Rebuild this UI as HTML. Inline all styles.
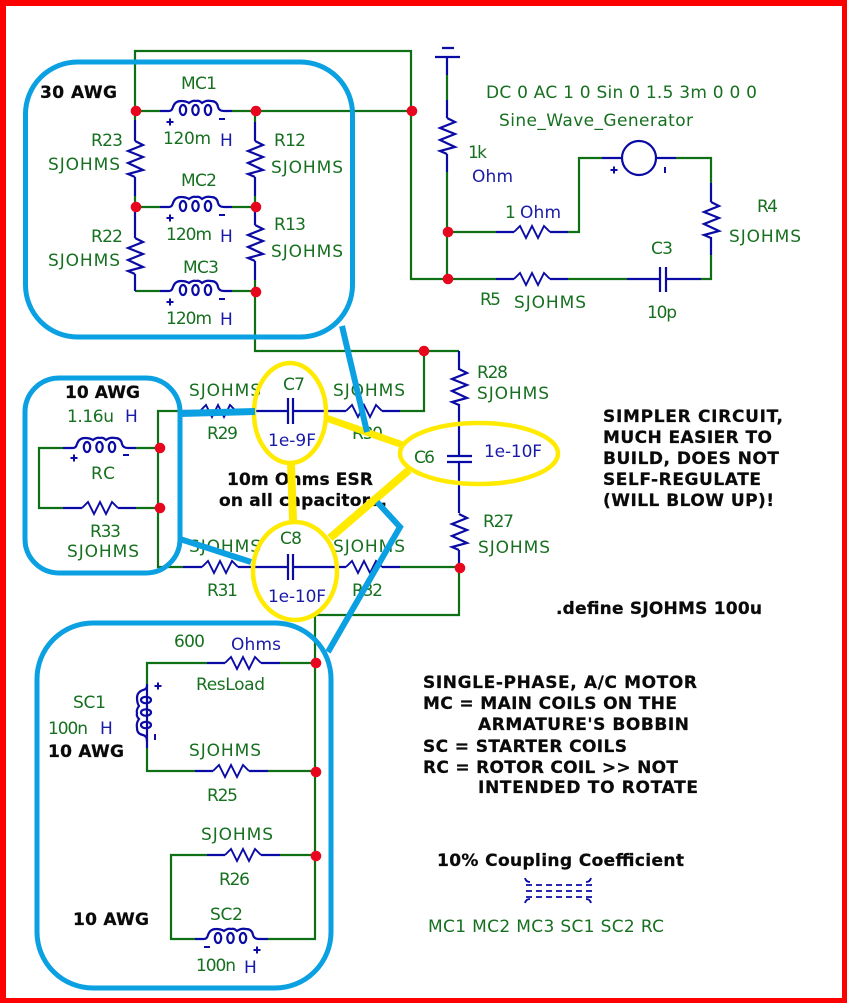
<!DOCTYPE html>
<html><head><meta charset="utf-8"><style>
html,body{margin:0;padding:0;background:#fff}
svg{display:block}
text{font-family:"DejaVu Sans","Liberation Sans",sans-serif;font-size:17px;fill:#16701f}
.b{fill:#1a1aa8}
.k{fill:#0a0a0a;font-weight:bold;font-size:17px;stroke:#0a0a0a;stroke-width:.25}
.gw{fill:none;stroke:#0f6f14;stroke-width:2.2}
.bw{fill:none;stroke:#0a0aa5;stroke-width:2.2}
.th{fill:none;stroke:#0aa0e2}
.ye{fill:none;stroke:#ffea00}
</style></head><body>
<svg width="847" height="1003" viewBox="0 0 847 1003" xmlns="http://www.w3.org/2000/svg">
<defs>
<path id="r" d="M0,0L6,-6L12,6L18,-6L24,6L30,-6L36,0" fill="none" stroke="#0a0aa5" stroke-width="1.9"/>
<path id="v" d="M0,0L8,4L-7,10L8,16L-7,22L8,29L-7,33L0,36" fill="none" stroke="#0a0aa5" stroke-width="2.2"/>
<g id="i" fill="none" stroke="#0a0aa5" stroke-width="2.2">
<path d="M0,0H1Q4,0 5,-4Q7,-10 13,-10Q18,-10 21,-8Q25,-11 28,-10Q31,-11 34,-8Q38,-11 43,-10Q49,-10 50,-4Q51,0 56,0"/>
<ellipse cx="15" cy="-1" rx="3.2" ry="5"/><ellipse cx="27.5" cy="-1" rx="3.2" ry="5"/><ellipse cx="40" cy="-1" rx="3.2" ry="5"/>
</g>
<path id="p" d="M-3.5,0H3.5M0,-3.5V3.5" stroke="#0a0aa5" stroke-width="2" fill="none"/>
<path id="m" d="M-3,0H3" stroke="#0a0aa5" stroke-width="2" fill="none"/>
<circle id="d" r="5.3" fill="#e8061e"/>
</defs>
<rect x="0" y="0" width="847" height="1003" fill="#fe0000"/>
<rect x="6" y="6" width="836" height="992" fill="#fff"/>

<!-- green wires -->
<path class="gw" d="M135,120V51H411V279H496M135,111H160M232,111H411M135,195V207H160M232,207H255M135,291H160M232,291H255M255,111V122M255,196V207M255,280V351H459M424,351V411H400M411,279H447M447,75V100M447,172V279M447,232H496M568,232H579V158H602M676,158H711V183M711,255V279H701M568,279H627"/>
<path class="gw" d="M183,411H158V567H183M158,448H136M158,508H136M63,448H39V508H63M400,567H459M459,567V615H315V939H268M315,663H280M315,771H268M315,855H280M207,663H147V684M147,748V771H195M207,855H171V939H195"/>
<!-- blue wires -->
<path class="bw" d="M135,120V141M135,177V196M135,207V238M135,274V291M255,122V141M255,177V196M255,207V225M255,261V280M160,111H168M224,111H232M160,207H168M224,207H232M160,291H168M224,291H232"/>
<path class="bw" d="M447,57V75M447,100V118M447,154V172M435,57H460M442,48H454M496,232H514M550,232H568M602,158H622M656,158H676M711,183V202M711,237V255M701,279H666M660,279H627M496,279H514M550,279H568M660,267V292M666,267V292"/>
<path class="bw" d="M183,411H200M236,411H288M293,411H346M382,411H400M183,567H202M238,567H288M293,567H346M382,567H400M288,398V424M293,398V424M288,554V580M293,554V580M459,351V370M459,404V456M447,456H472M447,462H472M459,462V513M459,550V567M63,448H72M128,448H136M63,508H82M118,508H136"/>
<path class="bw" d="M207,663H225M261,663H280M147,684V748M195,771H213M249,771H268M207,855H225M261,855H280M195,939H203M259,939H268"/>

<use href="#v" transform="translate(135,141)"/><use href="#v" transform="translate(135,238)"/>
<use href="#v" transform="translate(255,141)"/><use href="#v" transform="translate(255,225)"/>
<use href="#v" transform="translate(447,118)"/><use href="#v" transform="translate(711,202)"/>
<use href="#v" transform="translate(459,369)"/><use href="#v" transform="translate(459,514)"/>
<use href="#r" x="514" y="232"/><use href="#r" x="514" y="279"/>
<use href="#r" x="200" y="411"/><use href="#r" x="346" y="411"/>
<use href="#r" x="202" y="567"/><use href="#r" x="346" y="567"/>
<use href="#r" x="82" y="508"/><use href="#r" x="225" y="663"/>
<use href="#r" x="213" y="771"/><use href="#r" x="225" y="855"/>
<use href="#i" x="168" y="111"/><use href="#i" x="168" y="207"/><use href="#i" x="168" y="291"/>
<use href="#i" x="72" y="448"/><use href="#i" x="203" y="939"/>
<use href="#i" transform="translate(147,685) matrix(0,1,1,0,0,0)"/>
<circle cx="639" cy="158" r="17" fill="#fff" stroke="#0a0aa5" stroke-width="2.2"/>

<use href="#p" x="170" y="122"/><use href="#m" x="222" y="119"/>
<use href="#p" x="170" y="218"/><use href="#m" x="222" y="215"/>
<use href="#p" x="170" y="302"/><use href="#m" x="222" y="299"/>
<use href="#p" x="614" y="170"/><path d="M665,167V173M155,734V740" stroke="#0a0aa5" stroke-width="2"/>
<use href="#p" x="74" y="458"/><use href="#m" x="126" y="455"/>
<use href="#p" x="158" y="686"/>
<use href="#m" x="207" y="947"/><use href="#p" x="257" y="950"/>
<!-- coupling symbol -->
<path d="M526,885H592M526,891H592M526,897H592" stroke="#0a0aa5" stroke-width="1.8" stroke-dasharray="6 4" fill="none"/>
<path d="M525,878Q526,882 530,882M591,878Q590,882 586,882M525,903Q526,899 530,899M591,903Q590,899 586,899" stroke="#0a0aa5" stroke-width="1.8" fill="none"/>

<!-- dots -->
<use href="#d" x="136" y="111"/><use href="#d" x="256" y="111"/><use href="#d" x="412" y="111"/>
<use href="#d" x="136" y="207"/><use href="#d" x="256" y="207"/><use href="#d" x="256" y="292"/>
<use href="#d" x="448" y="232"/><use href="#d" x="448" y="279"/><use href="#d" x="424" y="351"/>
<use href="#d" x="160" y="448"/><use href="#d" x="160" y="508"/><use href="#d" x="460" y="568"/>
<use href="#d" x="316" y="663"/><use href="#d" x="316" y="772"/><use href="#d" x="316" y="856"/>

<!-- labels -->
<text x="181" y="89" textLength="36">MC1</text>
<text x="163" y="144" textLength="48">120m</text><text class="b" x="220" y="146">H</text>
<text x="91" y="146" textLength="32">R23</text>
<text x="48" y="170" textLength="72">SJOHMS</text>
<text x="274" y="146" textLength="32">R12</text>
<text x="271" y="173" textLength="72">SJOHMS</text>
<text x="181" y="186" textLength="36">MC2</text>
<text x="166" y="240" textLength="46">120m</text><text class="b" x="220" y="242">H</text>
<text x="91" y="242" textLength="32">R22</text>
<text x="48" y="266" textLength="72">SJOHMS</text>
<text x="274" y="230" textLength="32">R13</text>
<text x="271" y="257" textLength="72">SJOHMS</text>
<text x="183" y="273" textLength="36">MC3</text>
<text x="166" y="324" textLength="46">120m</text><text class="b" x="220" y="325">H</text>

<text x="486" y="98" textLength="271">DC 0 AC 1 0 Sin 0 1.5 3m 0 0 0</text>
<text x="499" y="126" textLength="194">Sine_Wave_Generator</text>
<text x="468" y="158" textLength="19">1k</text>
<text class="b" x="472" y="182" textLength="41">Ohm</text>
<text x="505" y="218">1</text><text class="b" x="520" y="218" textLength="41">Ohm</text>
<text x="757" y="212" textLength="21">R4</text>
<text x="729" y="242" textLength="72">SJOHMS</text>
<text x="651" y="254" textLength="22">C3</text>
<text x="647" y="318" textLength="30">10p</text>
<text x="480" y="305" textLength="21">R5</text>
<text x="514" y="308" textLength="72">SJOHMS</text>

<text x="67" y="422" textLength="47">1.16u</text><text class="b" x="125" y="422">H</text>
<text x="91" y="479" textLength="24">RC</text>
<text x="90" y="537" textLength="31">R33</text>
<text x="67" y="557" textLength="72">SJOHMS</text>
<text x="189" y="396" textLength="72">SJOHMS</text>
<text x="207" y="439" textLength="31">R29</text>
<text x="189" y="552" textLength="72">SJOHMS</text>
<text x="207" y="596" textLength="31">R31</text>
<text x="283" y="390" textLength="22">C7</text>
<text class="b" x="268" y="446" textLength="48">1e-9F</text>
<text x="280" y="544" textLength="22">C8</text>
<text class="b" x="268" y="602" textLength="58">1e-10F</text>
<text x="333" y="396" textLength="72">SJOHMS</text>
<text x="352" y="439" textLength="31">R30</text>
<text x="333" y="552" textLength="72">SJOHMS</text>
<text x="352" y="596" textLength="31">R32</text>
<text x="477" y="378" textLength="31">R28</text>
<text x="477" y="399" textLength="72">SJOHMS</text>
<text x="414" y="463" textLength="21">C6</text>
<text class="b" x="484" y="457" textLength="58">1e-10F</text>
<text x="483" y="527" textLength="31">R27</text>
<text x="478" y="553" textLength="72">SJOHMS</text>

<text x="174" y="647" textLength="31">600</text>
<text class="b" x="231" y="650" textLength="50">Ohms</text>
<text x="196" y="690" textLength="69">ResLoad</text>
<text x="73" y="708" textLength="33">SC1</text>
<text x="48" y="734" textLength="40">100n</text><text class="b" x="100" y="734">H</text>
<text x="189" y="756" textLength="72">SJOHMS</text>
<text x="207" y="801" textLength="31">R25</text>
<text x="201" y="840" textLength="72">SJOHMS</text>
<text x="219" y="885" textLength="31">R26</text>
<text x="210" y="920" textLength="33">SC2</text>
<text x="196" y="971" textLength="40">100n</text><text class="b" x="244" y="973">H</text>
<text x="428" y="932" textLength="236">MC1 MC2 MC3 SC1 SC2 RC</text>

<!-- bold notes -->
<text class="k" x="40" y="98" textLength="77">30 AWG</text>
<text class="k" x="65" y="398" textLength="75">10 AWG</text>
<text class="k" x="48" y="757" textLength="76">10 AWG</text>
<text class="k" x="73" y="925" textLength="76">10 AWG</text>
<text class="k" x="227" y="485" textLength="146">10m Ohms ESR</text>
<text class="k" x="219" y="506" textLength="168">on all capacitors.</text>
<text class="k" x="603" y="422" textLength="180">SIMPLER CIRCUIT,</text>
<text class="k" x="603" y="443" textLength="169">MUCH EASIER TO</text>
<text class="k" x="603" y="464" textLength="176">BUILD, DOES NOT</text>
<text class="k" x="603" y="485" textLength="158">SELF-REGULATE</text>
<text class="k" x="603" y="506" textLength="171">(WILL BLOW UP)!</text>
<text class="k" x="556" y="614" textLength="206">.define SJOHMS 100u</text>
<text class="k" x="423" y="688" textLength="274">SINGLE-PHASE, A/C MOTOR</text>
<text class="k" x="423" y="709" textLength="254">MC = MAIN COILS ON THE</text>
<text class="k" x="478" y="730" textLength="211">ARMATURE'S BOBBIN</text>
<text class="k" x="423" y="752" textLength="204">SC = STARTER COILS</text>
<text class="k" x="423" y="773" textLength="255">RC = ROTOR COIL &gt;&gt; NOT</text>
<text class="k" x="478" y="793" textLength="220">INTENDED TO ROTATE</text>
<text class="k" x="437" y="866" textLength="247">10% Coupling Coefficient</text>

<!-- blue grouping frames -->
<rect class="th" x="25.5" y="62" width="327" height="275" rx="52" ry="52" stroke-width="5"/>
<rect class="th" x="25" y="378" width="155" height="195" rx="34" ry="34" stroke-width="5"/>
<rect class="th" x="37" y="623" width="294" height="365" rx="56" ry="56" stroke-width="5"/>

<!-- yellow overlays -->
<g class="ye">
<ellipse cx="290" cy="413" rx="36" ry="50" stroke-width="4.5"/>
<ellipse cx="295" cy="571" rx="42" ry="49" stroke-width="4.5"/>
<ellipse cx="479" cy="453.5" rx="79" ry="30.5" stroke-width="4.5"/>
<path d="M326,418L403,445" stroke-width="7"/>
<path d="M291,464L293,520" stroke-width="8"/>
<path d="M330,538L409,470" stroke-width="8"/>
</g>
<!-- blue connectors -->
<g class="th">
<path d="M180,413.5L255,411.5" stroke-width="7"/>
<path d="M180,539L251,562" stroke-width="6"/>
<path d="M342,326L367,432" stroke-width="6"/>
<path d="M377,502L400,527L328,652" stroke-width="6"/>
</g>
</svg>
</body></html>
